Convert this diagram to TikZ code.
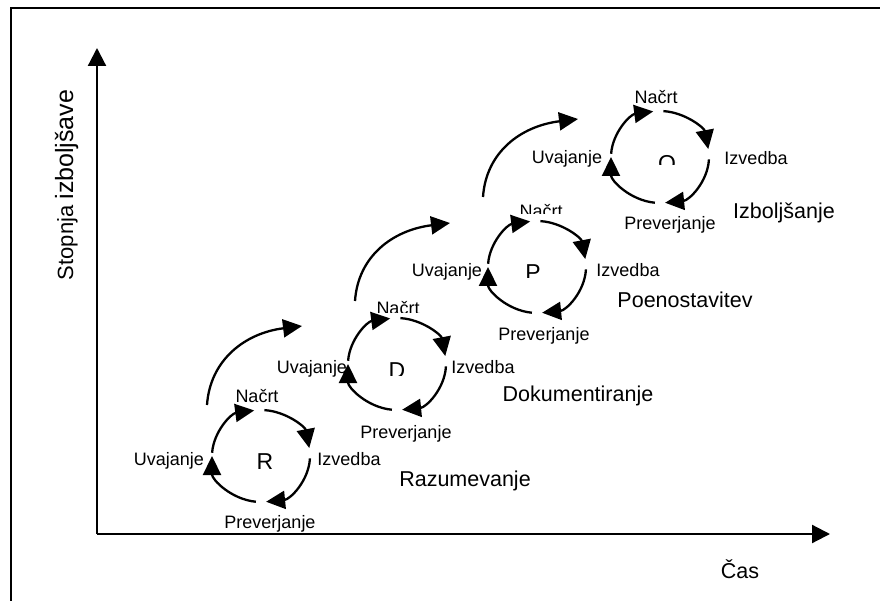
\documentclass[tikz,border=0pt]{standalone}
\usepackage{fontspec}
\setmainfont{Liberation Sans}
\usetikzlibrary{arrows.meta,calc}

\begin{document}
\begin{tikzpicture}[x=1pt,y=-1pt,
  frame/.style={line width=2.2pt},
  axis/.style={line width=2.2pt,-{Triangle[length=18pt,width=18pt]}},
  cyc/.style={line width=2.3pt,-{Triangle[length=19pt,width=18pt]}},
  climb/.style={line width=2.3pt,-{Triangle[length=19pt,width=18pt]}},
  lbl/.style={font=\fontsize{18}{20}\selectfont,anchor=base,inner sep=0pt},
  big/.style={font=\fontsize{21.5}{24}\selectfont,anchor=base,inner sep=0pt},
  ctr/.style={font=\fontsize{23}{26}\selectfont,anchor=base,inner sep=0pt}]

\useasboundingbox (0,0) rectangle (880,601);

% outer frame (open to the right and bottom)
\coordinate (fbl) at (11,601);
\coordinate (ftl) at (11,8);
\coordinate (ftr) at (880,8);
\draw[frame] (fbl) -- (ftl) -- (ftr);

% axes
\coordinate (origin) at (97,534);
\coordinate (ytip) at (97,48);
\coordinate (xtip) at (830,534);
\draw[axis] (origin) -- (ytip);
\draw[axis] (origin) -- (xtip);
\node[anchor=base,inner sep=0pt,rotate=90,font=\fontsize{22}{24}\selectfont] (ylab) at (73,185)
  {Stopnja {\fontsize{25}{28}\selectfont izboljšave}};
\node[big] (xlab) at (740,578) {Čas};

% the four improvement cycles
\foreach \n/\cx/\cy in {R/261/456, D/397/364, P/537/267, O/660/157} {
  \coordinate (c\n) at (\cx,\cy);
  \draw[cyc] (c\n) ++(184:49 and 46) arc[start angle=184,end angle=262,x radius=49,y radius=46];
  \draw[cyc] (c\n) ++(274:49 and 46) arc[start angle=274,end angle=350,x radius=49,y radius=46];
  \draw[cyc] (c\n) ++(3:49 and 46) arc[start angle=3,end angle=84,x radius=49,y radius=46];
  \draw[cyc] (c\n) ++(96:49 and 46) arc[start angle=96,end angle=180,x radius=49,y radius=46];
}

% cycle R
\node[lbl] (Rn) at (257,402) {Načrt};
\node[lbl] (Ru) at (169,465) {Uvajanje};
\node[lbl] (Ri) at (349,465) {Izvedba};
\node[lbl] (Rp) at (270,528) {Preverjanje};
\node[ctr] (Rc) at (265,469) {R};
\node[big] (Rname) at (465,486) {Razumevanje};

% cycle D
\begin{scope}
  \clip (360,290) rectangle (440,313);
  \node[lbl] (Dn) at (398,315) {Načrt};
\end{scope}
\node[lbl] (Du) at (312,373) {Uvajanje};
\node[lbl] (Di) at (483,373) {Izvedba};
\node[lbl] (Dp) at (406,438) {Preverjanje};
\begin{scope}
  \clip (380,350) rectangle (415,375);
  \node[ctr] (Dc) at (397,378) {D};
\end{scope}
\node[big] (Dname) at (578,401) {Dokumentiranje};

% cycle P
\begin{scope}
  \clip (505,195) rectangle (580,214);
  \node[lbl] (Pn) at (541,218) {Načrt};
\end{scope}
\node[lbl] (Pu) at (447,277) {Uvajanje};
\node[lbl] (Pi) at (628,277) {Izvedba};
\node[lbl] (Pp) at (544,340) {Preverjanje};
\begin{scope}
  \clip (520,255) rectangle (550,278);
  \node[ctr] (Pc) at (533,281) {P};
\end{scope}
\node[big] (Pname) at (685,308) {Poenostavitev};

% cycle O
\node[lbl] (On) at (656,104) {Načrt};
\node[lbl] (Ou) at (567,164) {Uvajanje};
\node[lbl] (Oi) at (756,165) {Izvedba};
\node[lbl] (Op) at (670,230) {Preverjanje};
\begin{scope}
  \clip (645,145) rectangle (680,165);
  \node[ctr] (Oc) at (667,172) {O};
\end{scope}
\node[big] (Oname) at (784,219) {Izboljšanje};

% rising arrows between the cycles
\coordinate (s1) at (207,405); \coordinate (t1) at (302,326);
\coordinate (s2) at (355,301); \coordinate (t2) at (450,223);
\coordinate (s3) at (483,197); \coordinate (t3) at (578,119);
\foreach \k in {1,2,3}
  \draw[climb] (s\k) .. controls ($(s\k)+(3,-45)$) and ($(t\k)+(-57,7)$) .. (t\k);

\end{tikzpicture}
\end{document}
